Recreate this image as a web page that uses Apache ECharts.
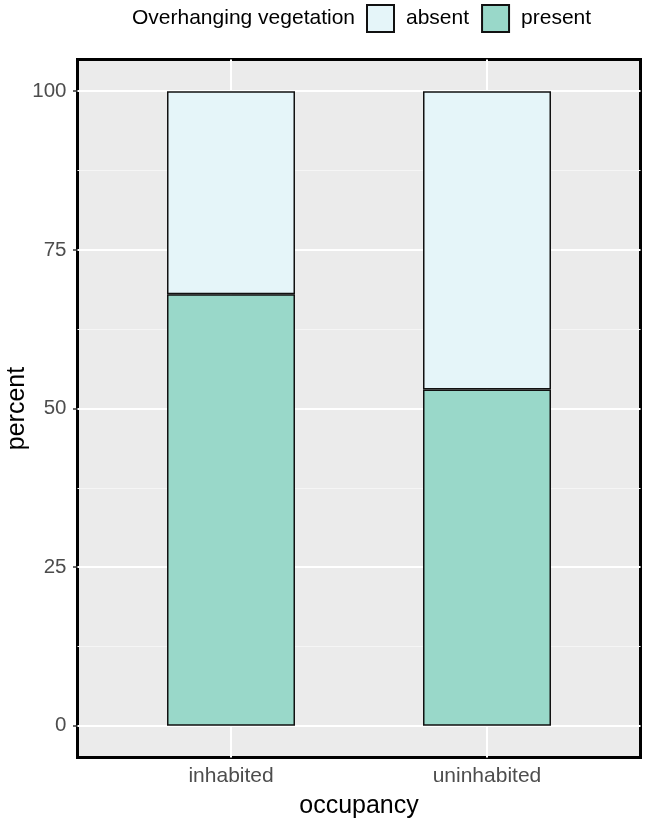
<!DOCTYPE html>
<html>
<head>
<meta charset="utf-8">
<script src="https://cdn.jsdelivr.net/npm/echarts@6/dist/echarts.min.js"></script>
<style>
html,body{margin:0;padding:0;background:#fff;}
#chart{width:645px;height:820px;}
</style>
</head>
<body>
<div id="chart"></div>
<script>
const categories = ['inhabited', 'uninhabited'];
const presentValues = [68, 53];
const absentValues = [32, 47];
const yTicks = [0, 25, 50, 75, 100];
const yMinor = [12.5, 37.5, 62.5, 87.5];
const legendTitle = 'Overhanging vegetation';

const FONT = '"Liberation Sans", Arial, sans-serif';
const chart = echarts.init(document.getElementById('chart'), null, {renderer: 'canvas'});

const xPos = categories.map((c, i) => i + 1);
const common = {top: 59.5, bottom: 62.5, outerBoundsMode: 'none', containLabel: false};

chart.setOption({
  animation: false,
  textStyle: {fontFamily: FONT},
  grid: [
    Object.assign({left: 77.5, right: 4.5, show: true, backgroundColor: '#EBEBEB', borderColor: '#000', borderWidth: 3}, common),
    Object.assign({left: 103, right: 30}, common)
  ],
  legend: {
    left: 366, top: 4, padding: 0,
    itemWidth: 27, itemHeight: 27, itemGap: 12,
    icon: 'rect',
    data: ['absent', 'present'],
    textStyle: {fontSize: 21, color: '#000', fontFamily: FONT, padding: [3, 0, 0, 7]}
  },
  graphic: [{
    type: 'text', right: 645 - 355, top: 8,
    style: {text: legendTitle, fontSize: 21, fill: '#000', fontFamily: FONT}
  }],
  xAxis: [{
    gridIndex: 0, type: 'value', min: 0.4, max: 2.6,
    name: 'occupancy', nameLocation: 'middle', nameGap: 36, nameMoveOverlap: false,
    nameTextStyle: {fontSize: 25, color: '#000', fontFamily: FONT},
    axisLine: {show: false},
    axisTick: {show: true, length: 4.5, lineStyle: {color: '#333', width: 1.5}, customValues: xPos},
    axisLabel: {
      customValues: xPos, fontSize: 21, color: '#4D4D4D', margin: 8,
      formatter: v => categories[Math.round(v) - 1] || ''
    },
    splitLine: {show: false}
  }, {
    gridIndex: 1, type: 'category', data: categories, show: false
  }],
  yAxis: [{
    gridIndex: 0, type: 'value', min: -5, max: 105,
    name: 'percent', nameLocation: 'middle', nameGap: 48, nameRotate: 90, nameMoveOverlap: false,
    nameTextStyle: {fontSize: 25, color: '#000', fontFamily: FONT},
    axisLine: {show: false},
    axisTick: {show: true, length: 4.5, lineStyle: {color: '#333', width: 1.5}, customValues: yTicks},
    axisLabel: {customValues: yTicks, fontSize: 20.5, color: '#4D4D4D', margin: 11},
    splitLine: {show: false}
  }, {
    gridIndex: 1, type: 'value', min: -5, max: 105, show: false, splitLine: {show: false}
  }],
  series: [
    {
      name: 'grid', type: 'line', xAxisIndex: 0, yAxisIndex: 0, data: [], silent: true, z: 1,
      markLine: {
        silent: true, symbol: 'none', label: {show: false}, z: 1,
        data: [
          ...yMinor.map(v => ({yAxis: v, lineStyle: {color: '#F5F5F5', width: 1, type: 'solid'}})),
          ...yTicks.map(v => ({yAxis: v, lineStyle: {color: '#FFFFFF', width: 2, type: 'solid'}})),
          ...xPos.map(v => ({xAxis: v, lineStyle: {color: '#FFFFFF', width: 2, type: 'solid'}}))
        ]
      }
    },
    {
      name: 'present', type: 'bar', stack: 'tot', xAxisIndex: 1, yAxisIndex: 1, z: 3, barWidth: 128,
      itemStyle: {color: '#99D8C9', borderColor: '#111', borderWidth: 1.5},
      data: presentValues
    },
    {
      name: 'absent', type: 'bar', stack: 'tot', xAxisIndex: 1, yAxisIndex: 1, z: 3, barWidth: 128,
      itemStyle: {color: '#E5F5F9', borderColor: '#111', borderWidth: 1.5},
      data: absentValues
    }
  ]
});
</script>
</body>
</html>
